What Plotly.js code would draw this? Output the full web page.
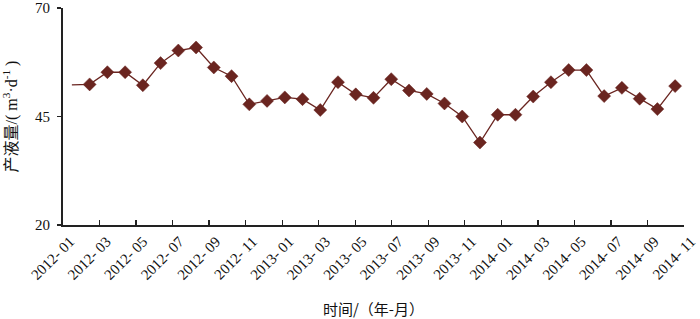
<!DOCTYPE html>
<html>
<head>
<meta charset="utf-8">
<script src="https://cdn.plot.ly/plotly-3.0.1.min.js"></script>
<style>html,body{margin:0;padding:0;background:#fff;}#chart{width:700px;height:319px;}</style>
</head>
<body>
<div id="chart"></div>
<script>
// Months (2012-01 .. 2014-11)
var months = [
  "2012-01","2012-02","2012-03","2012-04","2012-05","2012-06","2012-07","2012-08","2012-09","2012-10","2012-11","2012-12",
  "2013-01","2013-02","2013-03","2013-04","2013-05","2013-06","2013-07","2013-08","2013-09","2013-10","2013-11","2013-12",
  "2014-01","2014-02","2014-03","2014-04","2014-05","2014-06","2014-07","2014-08","2014-09","2014-10","2014-11"
];
// Liquid production (m3/d)
var production = [
  52.3, 52.4, 55.2, 55.2, 52.2, 57.3, 60.2, 60.9, 56.3, 54.3, 47.8, 48.6,
  49.4, 49.0, 46.5, 52.9, 50.1, 49.3, 53.6, 51.0, 50.2, 48.0, 45.0, 39.0,
  45.4, 45.4, 49.6, 52.9, 55.7, 55.7, 49.7, 51.6, 49.1, 46.7, 52.0
];
// Axis tick labels
var xTickLabels = [
  "2012- 01","2012- 03","2012- 05","2012- 07","2012- 09","2012- 11",
  "2013- 01","2013- 03","2013- 05","2013- 07","2013- 09","2013- 11",
  "2014- 01","2014- 03","2014- 05","2014- 07","2014- 09","2014- 11"
];
var yTickVals = [20, 45, 70];

var xIdx = months.map(function(m, i){ return i; });
var n = months.length;
// labels spread evenly across full axis length (as in the original figure)
var xTickVals = xTickLabels.map(function(t, k){ return -0.5 + k * n / (xTickLabels.length - 1); });
var markerSizes = months.map(function(m, i){ return i === 0 ? 0 : 10; });

var color = "#6a2520";
var trace = {
  x: xIdx,
  y: production,
  type: "scatter",
  mode: "lines+markers",
  line: {color: color, width: 1.3},
  marker: {symbol: "diamond", size: markerSizes, color: color, opacity: 1, line: {width: 0.5, color: color}},
  hoverinfo: "skip",
  showlegend: false
};

var fontFam = "'Liberation Serif', 'Times New Roman', 'Noto Sans CJK SC', serif";
var layout = {
  width: 700,
  height: 319,
  margin: {l: 63, r: 16, t: 8, b: 94},
  paper_bgcolor: "#fff",
  plot_bgcolor: "#fff",
  font: {family: fontFam, size: 15, color: "#111"},
  xaxis: {
    range: [-0.5, n - 0.5],
    tickmode: "array",
    tickvals: xTickVals,
    ticktext: xTickLabels,
    tickangle: -45,
    ticks: "inside",
    ticklen: 5,
    tickwidth: 1.3,
    tickcolor: "#222",
    ticklabelshift: 7,
    ticklabelstandoff: 0,
    ticklabeloverflow: "allow",
    showline: true,
    linecolor: "#222",
    linewidth: 2,
    showgrid: false,
    zeroline: false,
    tickfont: {family: fontFam, size: 15, color: "#111"},
    title: {text: "时间/（年-月）", font: {family: "'Noto Sans CJK SC', sans-serif", size: 15, color: "#111"}, standoff: 24},
    automargin: false
  },
  yaxis: {
    range: [20, 70],
    tickmode: "array",
    tickvals: yTickVals,
    ticktext: yTickVals.map(String),
    ticks: "outside",
    ticklen: 4,
    tickwidth: 1.3,
    tickcolor: "#222",
    ticklabelstandoff: 4,
    showline: true,
    linecolor: "#222",
    linewidth: 2,
    showgrid: false,
    zeroline: false,
    tickfont: {family: fontFam, size: 15, color: "#111"},
    title: {text: "产液量/( m<sup>3</sup>·d<sup>-1</sup> )", font: {family: fontFam, size: 16, color: "#111"}, standoff: 16},
    automargin: false
  }
};

Plotly.newPlot("chart", [trace], layout, {displayModeBar: false, staticPlot: true});
</script>
</body>
</html>
